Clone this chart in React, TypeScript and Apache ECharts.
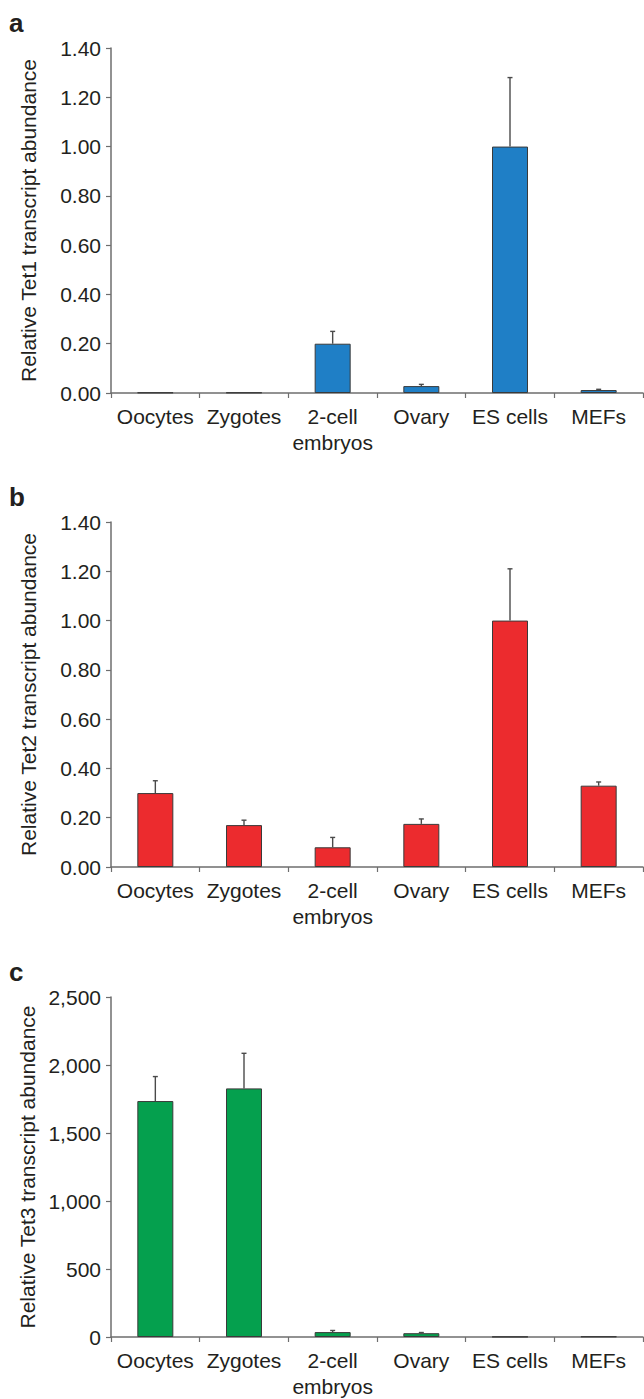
import React, { useEffect, useRef } from "react";
import * as echarts from "echarts";

const categories = ["Oocytes", "Zygotes", "2-cell\nembryos", "Ovary", "ES cells", "MEFs"];

const tet1Values = [0.002, 0.002, 0.2, 0.028, 1.0, 0.012];
const tet1Errors = [0.0, 0.0, 0.05, 0.007, 0.28, 0.003];

const tet2Values = [0.3, 0.17, 0.08, 0.175, 1.0, 0.33];
const tet2Errors = [0.05, 0.02, 0.04, 0.02, 0.21, 0.015];

const tet3Values = [1735, 1828, 36, 28, 2, 4];
const tet3Errors = [180, 258, 12, 5, 0, 1];

const panelLetters = ["a", "b", "c"];
const axisNames = [
  "Relative Tet1 transcript abundance",
  "Relative Tet2 transcript abundance",
  "Relative Tet3 transcript abundance",
];

const FONT = "'Liberation Sans', Arial, Helvetica, sans-serif";
const TEXT = "#231f20";
const AXIS = "#6e6e6e";

export default function App() {
  const ref = useRef<HTMLDivElement>(null);

  useEffect(() => {
    if (!ref.current) return;
    const chart = echarts.init(ref.current, undefined, { renderer: "svg" });

    const panels = [
      { values: tet1Values, errors: tet1Errors, color: "#1f7fc6", max: 1.4, interval: 0.2, fmt: (v: number) => v.toFixed(2) },
      { values: tet2Values, errors: tet2Errors, color: "#ec2b2e", max: 1.4, interval: 0.2, fmt: (v: number) => v.toFixed(2) },
      { values: tet3Values, errors: tet3Errors, color: "#05a04e", max: 2500, interval: 500, fmt: (v: number) => v.toLocaleString("en-US") },
    ];
    const tops = [48, 522, 997];
    const heights = [345, 345, 346];

    const grid = panels.map((_, i) => ({ left: 111, top: tops[i], width: 532, height: heights[i] }));
    const xAxis = panels.map((_, i) => ({
      type: "category",
      gridIndex: i,
      data: categories,
      boundaryGap: true,
      axisLine: { show: true, lineStyle: { color: AXIS, width: 1.5 } },
      axisTick: { show: true, length: 5, lineStyle: { color: AXIS, width: 1.2 } },
      axisLabel: { color: TEXT, fontSize: 21, fontFamily: FONT, margin: 10, lineHeight: 26, interval: 0 },
    }));
    const yAxis = panels.map((p, i) => ({
      type: "value",
      gridIndex: i,
      min: 0,
      max: p.max,
      interval: p.interval,
      name: axisNames[i],
      nameLocation: "middle",
      nameGap: 72,
      nameRotate: 90,
      nameTextStyle: { color: TEXT, fontSize: 21, fontFamily: FONT },
      splitLine: { show: false },
      axisLine: { show: true, lineStyle: { color: AXIS, width: 1.5 } },
      axisTick: { show: true, length: 5, lineStyle: { color: AXIS, width: 1.2 } },
      axisLabel: { color: TEXT, fontSize: 21, fontFamily: FONT, margin: 10, formatter: p.fmt },
    }));

    const series: any[] = [];
    panels.forEach((p, i) => {
      series.push({
        type: "bar",
        xAxisIndex: i,
        yAxisIndex: i,
        data: p.values,
        barWidth: 36,
        itemStyle: { color: p.color, borderColor: "#3a3a3a", borderWidth: 1 },
        z: 2,
      });
      series.push({
        type: "custom",
        xAxisIndex: i,
        yAxisIndex: i,
        z: 3,
        data: p.values.map((v, k) => [k, v, v + p.errors[k]]),
        encode: { x: 0, y: [1, 2] },
        renderItem: (params: any, api: any) => {
          const base = api.coord([api.value(0), api.value(1)]);
          const top = api.coord([api.value(0), api.value(2)]);
          if (Math.abs(base[1] - top[1]) < 0.5) return { type: "group", children: [] };
          const st = { stroke: "#4a4a4a", lineWidth: 1.4 };
          return {
            type: "group",
            children: [
              { type: "line", shape: { x1: base[0], y1: base[1], x2: top[0], y2: top[1] }, style: st },
              { type: "line", shape: { x1: top[0] - 2.5, y1: top[1], x2: top[0] + 2.5, y2: top[1] }, style: st },
            ],
          };
        },
      });
    });

    const letterTops = [10, 484, 959];
    const graphic = panelLetters.map((l, i) => ({
      type: "text",
      left: 9,
      top: letterTops[i],
      style: { text: l, fill: TEXT, font: `bold 26px ${FONT}` },
    }));

    chart.setOption({
      animation: false,
      backgroundColor: "#ffffff",
      grid,
      xAxis,
      yAxis,
      series,
      graphic,
    } as any);

    return () => chart.dispose();
  }, []);

  return (
    <div
      ref={ref}
      style={{ position: "absolute", left: 0, top: 0, width: 644, height: 1399, background: "#fff" }}
    />
  );
}
